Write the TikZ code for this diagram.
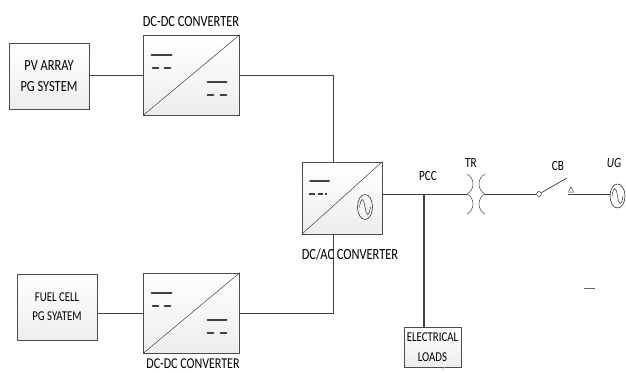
\documentclass[tikz,border=0pt]{standalone}
\usepackage{fontspec}
\setmainfont{Carlito}
\usetikzlibrary{shadows, shapes.geometric}
\tikzset{
  blockbox/.style={draw=black!70, line width=0.6pt, top color=white, bottom color=black!7,
    drop shadow={shadow xshift=0.6pt, shadow yshift=-0.8pt, opacity=0.3},
    inner sep=0pt, align=center},
  wire/.style={draw=black!75, line width=0.7pt},
  bar/.style={draw=black!75, line width=2pt, line cap=round},
  subbar/.style={bar, line width=1.6pt},
  lbl/.style={inner sep=0pt},
  source/.style={ellipse, draw=black!80, line width=0.6pt, minimum width=15pt, minimum height=25pt, inner sep=0pt},
}
\newcommand{\sqz}[2]{\scalebox{0.8}[1]{\fontsize{#1}{#1}\selectfont #2}}
\newcommand{\sinewave}[1]{%
  \draw[black!80, line width=0.5pt] ([xshift=-5.5pt]#1.center) .. controls +(1.5,-10) and +(-1.5,-10) .. (#1.center)
    .. controls +(1.5,10) and +(-1.5,10) .. ([xshift=5.5pt]#1.center);}
\newcommand{\dcbars}[1]{%
  \draw[bar] ([shift={(-40,-20)}]#1.center) -- ([shift={(-20,-20)}]#1.center);
  \draw[subbar] ([shift={(-39,-7)}]#1.center) -- ([shift={(-33,-7)}]#1.center);
  \draw[subbar] ([shift={(-27,-7)}]#1.center) -- ([shift={(-21,-7)}]#1.center);
  \draw[bar] ([shift={(16,7)}]#1.center) -- ([shift={(35,7)}]#1.center);
  \draw[subbar] ([shift={(16,20)}]#1.center) -- ([shift={(22,20)}]#1.center);
  \draw[subbar] ([shift={(29,20)}]#1.center) -- ([shift={(35,20)}]#1.center);}

\begin{document}
\begin{tikzpicture}[x=1pt, y=-1pt]
  \useasboundingbox (0,0) rectangle (626,372);

  % sources
  \node[blockbox, minimum width=80pt, minimum height=66pt] (pv) at (49,76)
    {\sqz{15.5}{PV ARRAY}\\[9pt]\sqz{15.5}{PG SYSTEM}};
  \node[blockbox, minimum width=80pt, minimum height=66pt] (fc) at (57,307)
    {\sqz{13.5}{FUEL CELL}\\[7pt]\sqz{13.5}{PG SYATEM}};

  % converters
  \node[blockbox, minimum width=96pt, minimum height=80pt] (dc1) at (191.5,75) {};
  \node[blockbox, minimum width=96pt, minimum height=80pt] (dc2) at (191.5,313) {};
  \node[blockbox, minimum width=80pt, minimum height=72pt] (inv) at (342,198) {};
  \foreach \b in {dc1, dc2, inv} {
    \draw[black!75, line width=0.5pt] (\b.south west) -- (\b.north east);
  }
  \dcbars{dc1}
  \dcbars{dc2}

  % inverter marks
  \draw[bar] (310,181) -- (329,181);
  \draw[black!75, line width=1.4pt, dash pattern=on 6pt off 2.5pt on 5pt off 2.5pt on 2pt off 3pt] (309,194) -- (329,194);
  \node[source] (acs) at (365,207) {};
  \sinewave{acs}

  % loads
  \node[blockbox, minimum width=57pt, minimum height=40pt] (load) at (432.5,347)
    {\sqz{13.5}{ELECTRICAL}\\[8pt]\sqz{13.5}{LOADS}};

  % grid side
  \coordinate (tl) at (467,194);
  \coordinate (tr) at (485,194);
  \coordinate (tap) at (424,194);
  \coordinate (in1) at (333,162);
  \coordinate (in2) at (333,234);
  \node[circle, draw=black!80, fill=white, line width=0.5pt, minimum size=5pt, inner sep=0pt] (swa) at (539,194) {};
  \coordinate (swb) at (567,178);
  \coordinate (swc) at (568,194);
  \node[source, minimum height=24pt] (ug) at (617.5,196) {};
  \sinewave{ug}
  \node[draw=black!80, isosceles triangle, isosceles triangle apex angle=50, shape border rotate=90,
    minimum size=5pt, inner sep=0pt, line width=0.4pt] (tri) at (571,190.5) {};

  % connectors
  \draw[wire] (pv.east |- dc1.west) -- (dc1.west);
  \draw[wire] (fc.east |- dc2.west) -- (dc2.west);
  \draw[wire] (dc1.east) -| (in1);
  \draw[wire] (dc2.east) -| (in2);
  \draw[wire] (inv.east |- tl) -- (tl);
  \draw[wire, line width=1.1pt] (tap) -- (load.north -| tap);
  \draw[wire] (tr) -- (swa);
  \draw[wire] (swa) -- (swb);
  \draw[wire] (swc) -- (610,194);

  % transformer
  \draw[black!75, line width=0.5pt] (467,174) .. controls (475,178) and (475,190) .. (tl)
    .. controls (475,198) and (475,210) .. (467,214);
  \draw[black!75, line width=0.5pt] (485,174) .. controls (477,178) and (477,190) .. (tr)
    .. controls (477,198) and (477,210) .. (485,214);

  % labels
  \node[lbl] (dc1txt) at (191,22) {\sqz{15.5}{DC-DC CONVERTER}};
  \node[lbl] (dc2txt) at (193,364) {\sqz{15}{DC-DC CONVERTER}};
  \node[lbl] (invtxt) at (350,254) {\sqz{15.5}{DC/AC CONVERTER}};
  \node[lbl] (pcctxt) at (428,176) {\sqz{14}{PCC}};
  \node[lbl] (trtxt) at (471,163) {\sqz{14}{TR}};
  \node[lbl] (cbtxt) at (558,166) {\sqz{14}{CB}};
  \node[lbl] (ugtxt) at (614,163) {\sqz{14}{\itshape UG}};

  % stray marks
  \draw[black!60, line width=0.5pt] (584,288) -- (595,288);
  \draw[black!30, line width=0.5pt] (442,370) -- (445,367);
\end{tikzpicture}
\end{document}
